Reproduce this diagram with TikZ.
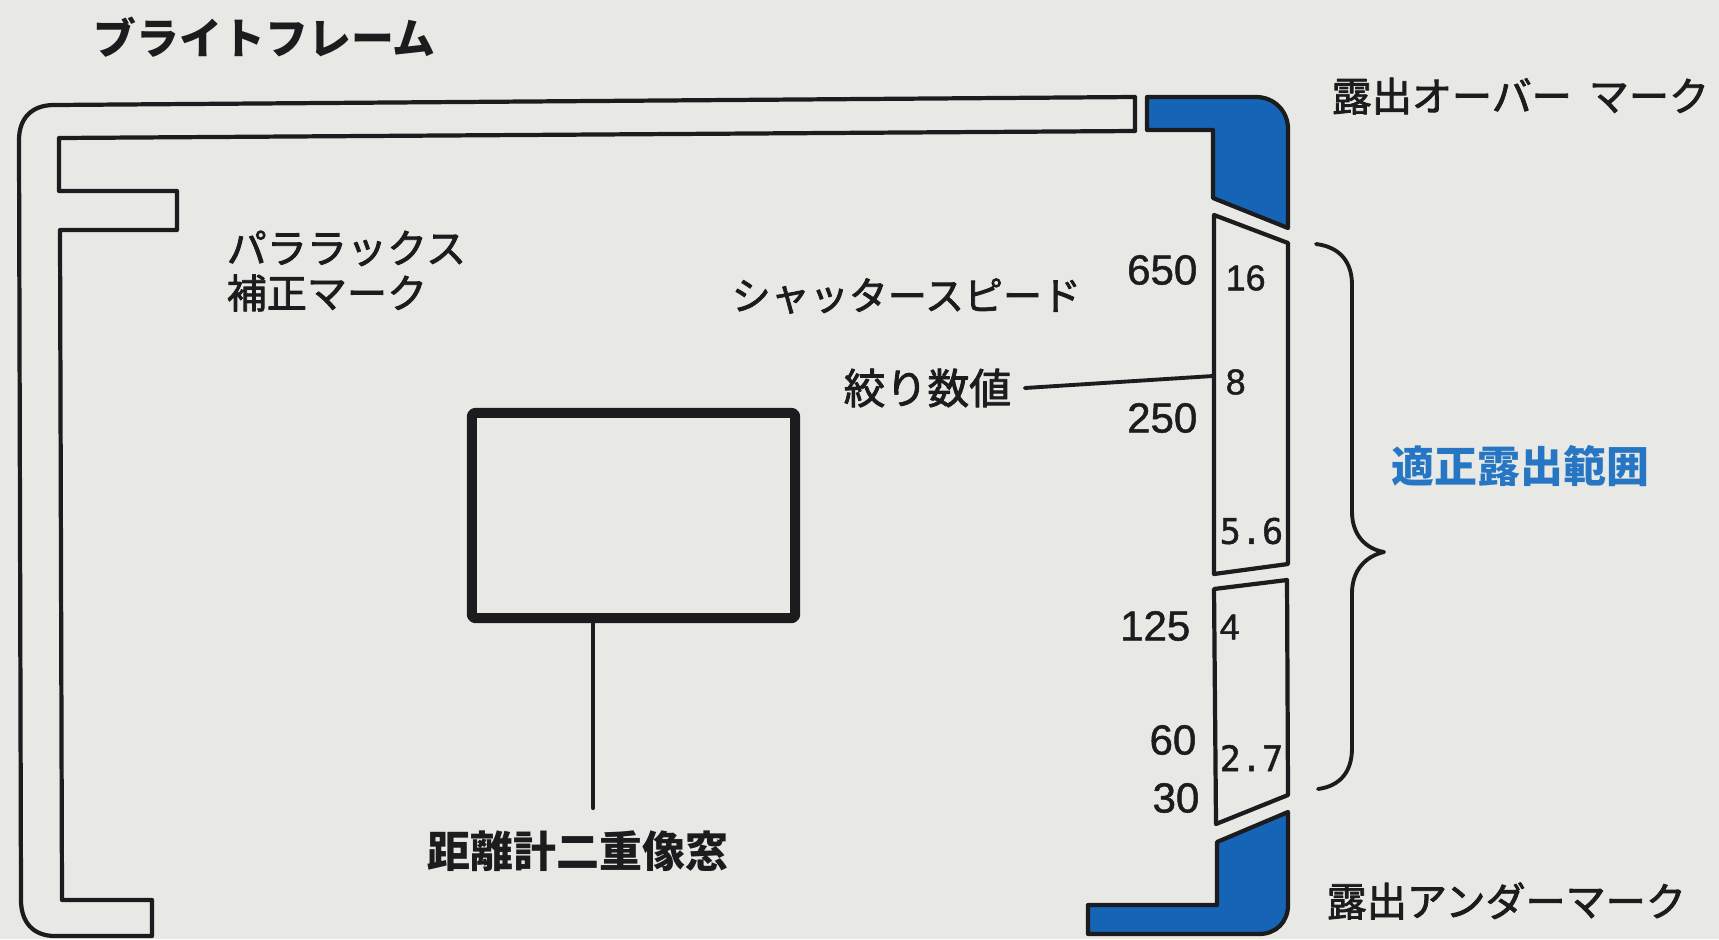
\documentclass[tikz,border=0pt]{standalone}
\usepackage{fontspec}
\newfontfamily\jp{Noto Sans CJK JP}
\newfontfamily\jpm{Noto Sans CJK JP}[FakeBold=2]
\newfontfamily\num{Liberation Sans}[FakeBold=1.2]
\newfontfamily\mono{DejaVu Sans Mono}[FakeBold=1.2]
\definecolor{paper}{RGB}{232,232,229}
\definecolor{ink}{RGB}{28,28,30}
\definecolor{markblue}{RGB}{22,100,182}
\definecolor{textblue}{RGB}{38,118,196}
\begin{document}
\begin{tikzpicture}[x=0.01cm,y=-0.01cm,line join=round,line cap=round,
  frameline/.style={draw=ink,line width=1.2pt},
  bluemark/.style={draw=ink,fill=markblue,line width=1.2pt},
  lbl/.style={inner sep=0pt,text=ink,font=\jpm\fontsize{11.4pt}{12.8pt}\selectfont},
  lblb/.style={inner sep=0pt,text=ink,font=\jp\bfseries\fontsize{12.2pt}{13pt}\selectfont},
  outnum/.style={inner sep=0pt,text=ink,anchor=east,font=\num\fontsize{11.95pt}{12pt}\selectfont},
  innum/.style={inner sep=0pt,text=ink,anchor=west,font=\num\fontsize{10.2pt}{10pt}\selectfont},
  monum/.style={inner sep=0pt,text=ink,anchor=west,font=\mono\fontsize{10pt}{10pt}\selectfont}]
\fill[paper] (0,0) rectangle (1719,939);
\useasboundingbox (0,0) rectangle (1719,939);

% bright frame
\draw[frameline] (1135,97) -- (1135,131) -- (59,138) -- (59,191) -- (177,191) -- (177,230) -- (60,230) -- (62,900) -- (152,900) -- (152,936) -- (55,936) .. controls (33,936) and (21,922) .. (21,900) -- (19,140) .. controls (19,118) and (32,105) .. (54,105) -- cycle;

% exposure marks
\draw[bluemark] (1147,130) -- (1147,97) -- (1256,97) .. controls (1274,97) and (1288,111) .. (1288,129) -- (1288,228) -- (1213,198) -- (1213,130) -- cycle;
\draw[bluemark] (1288,812) -- (1288,905) .. controls (1288,922) and (1276,934) .. (1259,934) -- (1088,934) -- (1088,905) -- (1217,905) -- (1217,842) -- cycle;

% aperture strip
\draw[frameline] (1214,215) -- (1288,243) -- (1288,564) -- (1214,574) -- cycle;
\draw[frameline] (1214,589) -- (1287,580) -- (1288,795) -- (1216,824) -- cycle;

% brace
\draw[ink,line width=1.1pt] (1316,244) .. controls (1340,247) and (1352,262) .. (1352,285) -- (1352,512) .. controls (1352,535) and (1366,549) .. (1384,552) .. controls (1366,556) and (1352,570) .. (1352,593) -- (1352,748) .. controls (1352,772) and (1340,786) .. (1318,789);

% rangefinder window
\node[draw=ink,line width=2.85pt,rounded corners=0.03cm,minimum width=3.23cm,minimum height=2.05cm,inner sep=0pt] (win) at (633.5,515.5) {};
\coordinate (winstem) at (593,808);
\draw[frameline] (winstem |- win.south) -- (winstem);
\node[lblb] (rf) at (578,851) {距離計二重像窓};

% labels
\node[lblb,anchor=west] (title) at (93,37) {ブライトフレーム};
\node[lbl,anchor=west,align=left] (para) at (226,271) {パララックス\\補正マーク};
\node[lbl,anchor=west,font=\jpm\fontsize{11.1pt}{12pt}\selectfont] (shutter) at (731,296) {シャッタースピード};
\node[lbl,anchor=west,font=\jpm\fontsize{11.9pt}{12pt}\selectfont] (kd) at (843,388) {絞り数値};
\coordinate (kdend) at (1213,376);
\draw[ink,line width=1.1pt] ([xshift=0.13cm]kd.east) -- (kdend);
\node[lbl,anchor=west] (over) at (1331,96) {露出オーバー\hspace{0.17cm}マーク};
\node[lbl,anchor=west] (under) at (1326,901) {露出アンダーマーク};
\node[lblb,anchor=west,text=textblue] (range) at (1391,466) {適正露出範囲};

% shutter speeds
\node[outnum] (s650) at (1198,270) {650};
\node[outnum] (s250) at (1198,418) {250};
\node[outnum] (s125) at (1191,626) {125};
\node[outnum] (s60) at (1197,740) {60};
\node[outnum] (s30) at (1200,798) {30};

% apertures
\node[innum] (f16) at (1225,278) {16};
\node[innum] (f8) at (1225,382) {8};
\node[monum] (f56) at (1219,531) {5.6};
\node[innum] (f4) at (1219,627) {4};
\node[monum] (f27) at (1219,758) {2.7};
\end{tikzpicture}
\end{document}
